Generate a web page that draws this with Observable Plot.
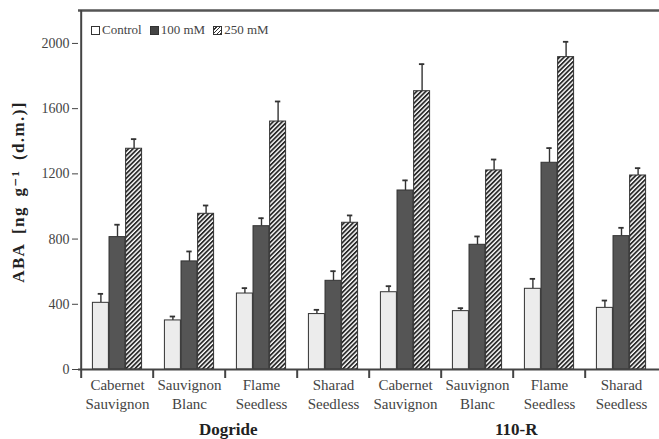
<!DOCTYPE html>
<html>
<head>
<meta charset="utf-8">
<script src="https://cdn.jsdelivr.net/npm/d3@7"></script>
<script src="https://cdn.jsdelivr.net/npm/@observablehq/plot@0.6"></script>
<style>
  body { margin: 0; background: #fff; }
  #wrap { position: relative; width: 659px; height: 439px; }
  #legend { position: absolute; left: 91px; top: 22px; font: 13px "Liberation Serif", "DejaVu Serif", serif; color: #444; display: flex; gap: 8px; }
  #legend span { display: inline-flex; align-items: center; }
  #legend i { display: inline-block; width: 7px; height: 7px; border: 1px solid #333; margin-right: 2px; }
</style>
</head>
<body>
<div id="wrap"><div id="legend"></div></div>
<script>
const groups = ["Dogride", "110-R"];
const cultivars = ["Cabernet Sauvignon", "Sauvignon Blanc", "Flame Seedless", "Sharad Seedless"];
const cultivarLines = ["Cabernet\nSauvignon", "Sauvignon\nBlanc", "Flame\nSeedless", "Sharad\nSeedless"];
const treatments = ["Control", "100 mM", "250 mM"];
const yTicks = [0, 400, 800, 1200, 1600, 2000];

// means and standard errors, ordered Dogride x4 cultivars, then 110-R x4 cultivars
const controlMean = [409, 301, 466, 340, 474, 358, 495, 378];
const controlErr  = [55, 24, 33, 26, 37, 18, 61, 45];
const mM100Mean   = [812, 663, 879, 544, 1098, 765, 1268, 818];
const mM100Err    = [76, 61, 49, 59, 62, 51, 90, 51];
const mM250Mean   = [1354, 955, 1521, 900, 1707, 1221, 1916, 1190];
const mM250Err    = [59, 51, 123, 45, 166, 67, 94, 45];

const means = [controlMean, mM100Mean, mM250Mean];
const errs = [controlErr, mM100Err, mM250Err];

const keys = [];
groups.forEach(g => cultivars.forEach(c => keys.push(g + "|" + c)));
const labelOf = new Map(keys.map((k, i) => [k, cultivarLines[i % cultivars.length]]));

const data = [];
treatments.forEach((t, ti) => keys.forEach((k, ki) => data.push({
  key: k, treatment: t, ti, value: means[ti][ki], err: errs[ti][ki]
})));

const width = 659, height = 439;
const marginLeft = 78, marginRight = 0, marginTop = 10, marginBottom = 70;
const B = (width - marginLeft - marginRight) / keys.length; // band width
const bw = 16.6;
const pad = (B - 3 * bw) / 2;
const yTop = 2202;

const fills = ["#ececec", "#555555", "url(#hatch250)"];
const dark = "#333";
const font = "Liberation Serif, DejaVu Serif, serif";

const marks = [];
marks.push(Plot.axisY({ticks: yTicks, tickSize: 6, tickPadding: 3, tickFormat: d3.format("d"), fontSize: 14, fill: "#444", stroke: "#444", label: null}));
marks.push(Plot.axisX({tickSize: 0, tickPadding: 7, tickFormat: k => labelOf.get(k), fontSize: 15, lineHeight: 1.25, fill: "#444", label: null}));

treatments.forEach((t, ti) => {
  const sub = data.filter(d => d.ti === ti);
  const insetLeft = pad + ti * bw;
  const insetRight = B - pad - (ti + 1) * bw;
  const cx = -B / 2 + pad + (ti + 0.5) * bw;
  marks.push(Plot.ruleX(sub, {x: "key", y1: "value", y2: d => d.value + d.err, dx: cx, stroke: dark, strokeWidth: 1.4}));
  marks.push(Plot.tickY(sub, {x: "key", y: d => d.value + d.err, insetLeft: insetLeft + bw / 2 - 3, insetRight: insetRight + bw / 2 - 3, stroke: dark, strokeWidth: 1.8}));
  marks.push(Plot.barY(sub, {x: "key", y: "value", insetLeft, insetRight, fill: fills[ti], stroke: dark, strokeWidth: 1}));
});

// axis lines and separators
marks.push(Plot.ruleY([0], {stroke: "#444", strokeWidth: 2}));
marks.push(Plot.ruleY([yTop], {stroke: "#555", strokeWidth: 2.5}));
marks.push(Plot.ruleX([keys[0]], {x: d => d, y1: 0, y2: yTop, dx: -B / 2, stroke: "#444", strokeWidth: 2}));
marks.push(Plot.ruleX(keys, {x: d => d, y1: 0, y2: 0, dx: -B / 2, insetBottom: -9, stroke: "#444", strokeWidth: 2}));

// group labels below the cultivar labels
const groupAnchor = groups.map((g, gi) => ({g, key: keys[gi * cultivars.length + 2]}));
marks.push(Plot.text(groupAnchor, {x: "key", y: () => 0, text: "g", dx: -B / 2 + 3, dy: 60, fontSize: 17, fontWeight: "bold", fill: "#222", fontFamily: font}));

const chart = Plot.plot({
  width, height, marginLeft, marginRight, marginTop, marginBottom,
  style: {fontFamily: font, fontSize: "14px", color: "#444", background: "#fff"},
  x: {type: "band", domain: keys, padding: 0, axis: null},
  y: {domain: [0, yTop], axis: null},
  marks
});

// y-axis title as real text, rotated
const svgns = "http://www.w3.org/2000/svg";
const yl = document.createElementNS(svgns, "text");
yl.setAttribute("transform", `translate(24,192) rotate(-90)`);
yl.setAttribute("text-anchor", "middle");
yl.setAttribute("font-family", font);
yl.setAttribute("font-size", "17");
yl.setAttribute("font-weight", "bold");
yl.setAttribute("letter-spacing", "1.4");
yl.setAttribute("word-spacing", "4");
yl.setAttribute("fill", "#222");
yl.textContent = "ABA [ng g⁻¹ (d.m.)]";
chart.appendChild(yl);

// hatch pattern definition
const defs = document.createElementNS(svgns, "defs");
defs.innerHTML = `<pattern id="hatch250" patternUnits="userSpaceOnUse" width="3.2" height="3.2" patternTransform="rotate(45)">
  <rect width="3.2" height="3.2" fill="#ffffff"></rect>
  <line x1="0.9" y1="0" x2="0.9" y2="3.2" stroke="#2a2a2a" stroke-width="1.8"></line>
</pattern>`;
chart.insertBefore(defs, chart.firstChild);

document.getElementById("wrap").prepend(chart);

const legend = document.getElementById("legend");
treatments.forEach((t, ti) => {
  const s = document.createElement("span");
  const sw = document.createElement("i");
  sw.style.background = ti === 0 ? "#fff" : ti === 1 ? "#444" : "repeating-linear-gradient(-45deg,#333 0 1px,#fff 1px 2.5px)";
  s.appendChild(sw);
  s.appendChild(document.createTextNode(t));
  legend.appendChild(s);
});
</script>
</body>
</html>
